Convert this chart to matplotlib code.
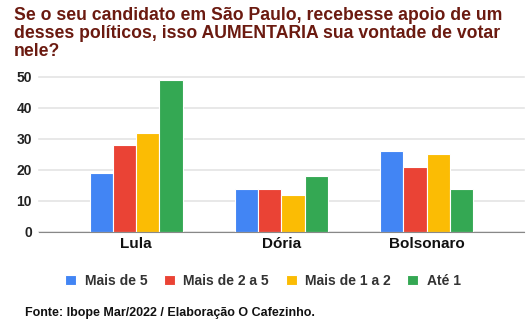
import matplotlib
matplotlib.use('Agg')
import matplotlib.pyplot as plt
import numpy as np

plt.rcParams['font.family'] = ['Liberation Sans', 'DejaVu Sans']
plt.rcParams['font.weight'] = 'bold'

# dados da pesquisa
candidatos = ['Lula', 'Dória', 'Bolsonaro']
faixas = ['Mais de 5', 'Mais de 2 a 5', 'Mais de 1 a 2', 'Até 1']
mais_de_5 = [19, 14, 26]
mais_de_2_a_5 = [28, 14, 21]
mais_de_1_a_2 = [32, 12, 25]
ate_1 = [49, 18, 14]
cores = ['#4285F4', '#EA4335', '#FBBC04', '#34A853']

series = [mais_de_5, mais_de_2_a_5, mais_de_1_a_2, ate_1]

fig = plt.figure(figsize=(5.26, 3.24), dpi=100)
ax = fig.add_axes([0.074, 0.284, 0.922, 0.479])

x = np.arange(len(candidatos))
w = 0.16
for i, (vals, cor, nome) in enumerate(zip(series, cores, faixas)):
    ax.bar(x + (i - 1.5) * w, vals, w, color=cor, edgecolor='white', linewidth=0.8, label=nome, zorder=3)

ax.set_xlim(-0.67, 2.67)
ax.set_ylim(0, 50)
ax.set_yticks([0, 10, 20, 30, 40, 50])
ax.grid(axis='y', color='#e4e4e4', linewidth=1.2, zorder=0)
for s in ['top', 'right', 'left']:
    ax.spines[s].set_visible(False)
ax.spines['bottom'].set_color('#888888')
ax.spines['bottom'].set_zorder(4)
ax.tick_params(axis='both', length=0, labelsize=10, colors='#222222')
ax.tick_params(axis='y', pad=5)
ax.set_xticks(x)
ax.set_xticklabels(candidatos, fontsize=11, color='#111111')
for gl in ax.get_ygridlines():
    gl.set_clip_on(False)

fig.text(0.027, 0.978, 'Se o seu candidato em São Paulo, recebesse apoio de um\n'
         'desses políticos, isso AUMENTARIA sua vontade de votar\nnele?',
         ha='left', va='top', fontsize=12.7, color='#6B1A10', fontweight='bold', linespacing=1.06)

fig.legend(loc='center', bbox_to_anchor=(0.5, 0.133), ncol=4, frameon=False,
           fontsize=10, handlelength=0.8, handleheight=0.8, handletextpad=0.6,
           columnspacing=1.2, labelcolor='#333333')

fig.text(0.048, 0.025, 'Fonte: Ibope Mar/2022 / Elaboração O Cafezinho.', fontsize=9,
         color='#111111', fontweight='bold')

fig.savefig('out.png', dpi=100)
